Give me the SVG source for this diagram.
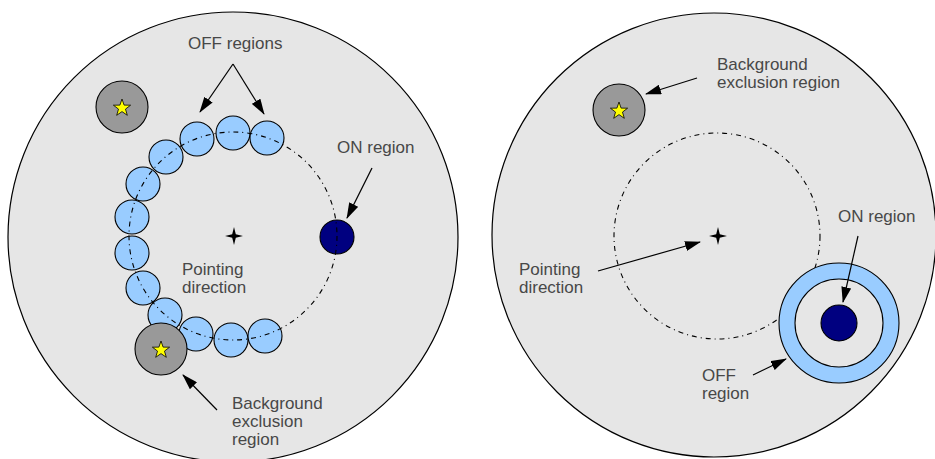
<svg xmlns="http://www.w3.org/2000/svg" width="935" height="459" viewBox="0 0 935 459">
<defs>
<style>
.fov{fill:#e6e6e6;stroke:#000;stroke-width:1.2}
.off{fill:#99ccff;stroke:#000;stroke-width:1.1}
.excl{fill:#999999;stroke:#000;stroke-width:1.1}
.on{fill:#000080;stroke:#000;stroke-width:1.1}
.ring{fill:none;stroke:#000;stroke-width:1.1;stroke-dasharray:5 4 1 4}
.star{fill:#ffff00;stroke:#000;stroke-width:0.8}
.pd{fill:#000}
.lbl{font-family:"Liberation Sans",Arial,sans-serif;font-size:17px;fill:#484848}
.arr{stroke:#000;stroke-width:1.2;fill:none;marker-end:url(#ah)}
</style>
<marker id="ah" viewBox="0 0 16 10" refX="15" refY="5" markerWidth="16" markerHeight="10" markerUnits="userSpaceOnUse" orient="auto">
<path d="M0,0 L16,5 L0,10 Z" fill="#000"/>
</marker>
<path id="ystar" d="M0,-9 L2.1,-2.9 L8.6,-2.8 L3.5,1.1 L5.3,7.3 L0,3.6 L-5.3,7.3 L-3.5,1.1 L-8.6,-2.8 L-2.1,-2.9 Z"/>
<path id="pstar" d="M0,-9 L1.8,-1.8 L9,0 L1.8,1.8 L0,9 L-1.8,1.8 L-9,0 L-1.8,-1.8 Z"/>
</defs>

<g id="left-panel">
<g id="left-fov"><circle class="fov" cx="233" cy="237" r="225"/></g>
<g id="left-off-regions">
<circle class="off" cx="197" cy="139" r="17"/>
<circle class="off" cx="233" cy="133" r="17"/>
<circle class="off" cx="267" cy="138" r="17"/>
<circle class="off" cx="166" cy="157" r="17"/>
<circle class="off" cx="143" cy="184" r="17"/>
<circle class="off" cx="132" cy="217" r="17"/>
<circle class="off" cx="132" cy="253" r="17"/>
<circle class="off" cx="143" cy="288" r="17"/>
<circle class="off" cx="165" cy="315" r="17"/>
<circle class="off" cx="196" cy="334" r="17"/>
<circle class="off" cx="231" cy="340" r="17"/>
<circle class="off" cx="265" cy="336" r="17"/>
</g>
<g id="left-on-region"><circle class="on" cx="337" cy="237" r="17"/></g>
<g id="left-ring"><circle class="ring" cx="233" cy="236" r="104"/></g>
<g id="left-exclusion-top"><circle class="excl" cx="122" cy="107" r="26"/><use href="#ystar" class="star" x="122" y="108"/></g>
<g id="left-exclusion-bottom"><circle class="excl" cx="161" cy="349" r="26"/><use href="#ystar" class="star" x="161" y="350"/></g>
<g id="left-pointing"><use href="#pstar" class="pd" x="234" y="236"/></g>
<g id="left-labels">
<text class="lbl" x="188" y="49">OFF regions</text>
<text class="lbl" x="337" y="153">ON region</text>
<text class="lbl" x="182" y="275">Pointing</text>
<text class="lbl" x="182" y="293">direction</text>
<text class="lbl" x="232" y="409">Background</text>
<text class="lbl" x="232" y="427">exclusion</text>
<text class="lbl" x="232" y="445">region</text>
</g>
</g>

<g id="right-panel">
<g id="right-fov"><circle class="fov" cx="714" cy="235" r="222"/></g>
<g id="right-ring"><circle class="ring" cx="717" cy="236" r="103"/></g>
<g id="right-off-region"><circle cx="839" cy="323" r="52" fill="none" stroke="#99ccff" stroke-width="16"/><circle cx="839" cy="323" r="60" fill="none" stroke="#000" stroke-width="1.1"/><circle cx="839" cy="323" r="44" fill="none" stroke="#000" stroke-width="1.1"/></g>
<g id="right-on-region"><circle class="on" cx="839" cy="323" r="18"/></g>
<g id="right-exclusion"><circle class="excl" cx="619" cy="110" r="26"/><use href="#ystar" class="star" x="619" y="111"/></g>
<g id="right-pointing"><use href="#pstar" class="pd" x="718" y="236"/></g>
<g id="right-labels">
<text class="lbl" x="717" y="70">Background</text>
<text class="lbl" x="717" y="88">exclusion region</text>
<text class="lbl" x="838" y="222">ON region</text>
<text class="lbl" x="519" y="275">Pointing</text>
<text class="lbl" x="519" y="293">direction</text>
<text class="lbl" x="702" y="381">OFF</text>
<text class="lbl" x="702" y="399">region</text>
</g>
</g>

<g id="connectors">
<line class="arr" x1="233" y1="64" x2="200" y2="112"/>
<line class="arr" x1="233" y1="64" x2="264" y2="114"/>
<line class="arr" x1="372" y1="168" x2="347" y2="218"/>
<line class="arr" x1="217" y1="410" x2="183" y2="375"/>
<line class="arr" x1="697" y1="78" x2="646" y2="94"/>
<line class="arr" x1="858" y1="236" x2="843" y2="302"/>
<line class="arr" x1="598" y1="271" x2="700" y2="242"/>
<line class="arr" x1="753" y1="375" x2="786" y2="359"/>
</g>
</svg>
